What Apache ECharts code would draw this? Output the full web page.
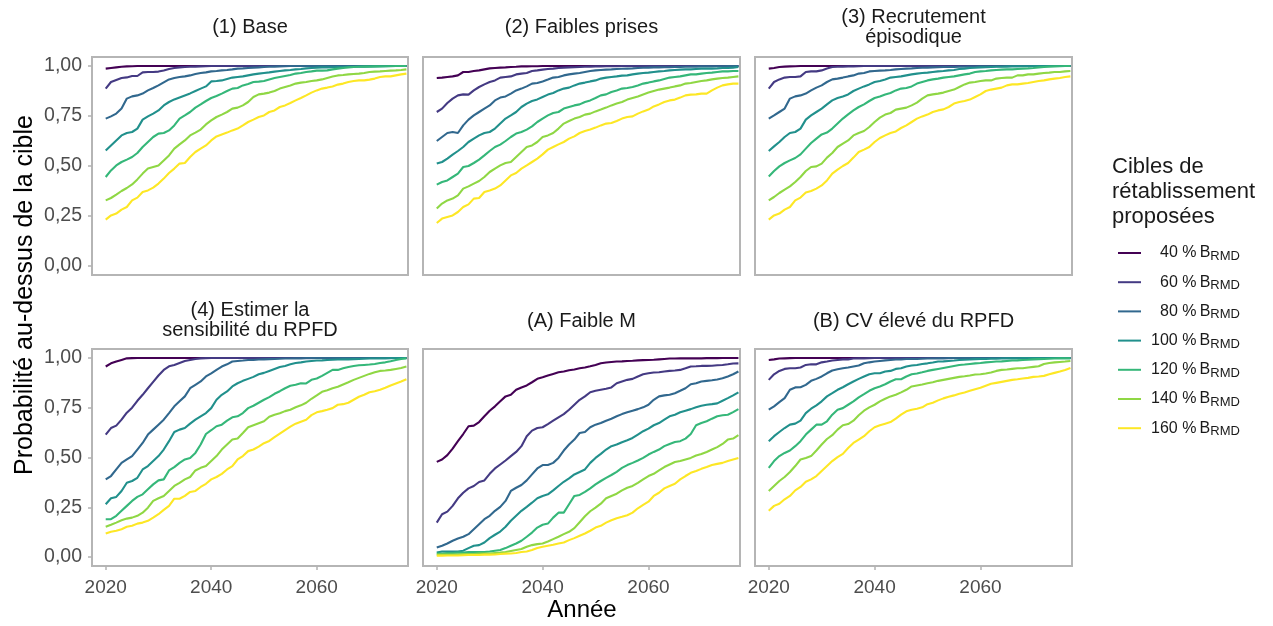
<!DOCTYPE html>
<html><head><meta charset="utf-8">
<script src="https://cdn.jsdelivr.net/npm/echarts@6/dist/echarts.min.js"></script>
<style>html,body{margin:0;padding:0;background:#fff}#c{width:1273px;height:626px}</style>
</head><body><div id="c"></div>
<script>
const years = [2020,2021,2022,2023,2024,2025,2026,2027,2028,2029,
2030,2031,2032,2033,2034,2035,2036,2037,2038,2039,
2040,2041,2042,2043,2044,2045,2046,2047,2048,2049,
2050,2051,2052,2053,2054,2055,2056,2057,2058,2059,
2060,2061,2062,2063,2064,2065,2066,2067,2068,2069,
2070,2071,2072,2073,2074,2075,2076,2077];
const targets = ['40','60','80','100','120','140','160'];
const colors = ['#440154','#443A83','#31688E','#21908C','#35B779','#8FD744','#FDE725'];
const panelTitles = [['(1) Base'],['(2) Faibles prises'],['(3) Recrutement','épisodique'],
  ['(4) Estimer la','sensibilité du RPFD'],['(A) Faible M'],['(B) CV élevé du RPFD']];
const yTickValues = [0,0.25,0.5,0.75,1];
const xTickValues = [2020,2040,2060];
const legendTitle = ['Cibles de','rétablissement','proposées'];
const yTitle = 'Probabilité au-dessus de la cible';
const xTitle = 'Année';

// (1) Base
const base = [
[.987,.99,.993,.996,.998,.999,1,1,1,1, 1,1,1,1,1,1,1,1,1,1, 1,1,1,1,1,1,1,1,1,1, 1,1,1,1,1,1,1,1,1,1, 1,1,1,1,1,1,1,1,1,1, 1,1,1,1,1,1,1,1],
[.887,.92,.93,.94,.943,.95,.95,.968,.97,.97, .972,.978,.985,.99,.993,.995,.996,.997,.998,.999, 1,1,1,1,1,1,1,1,1,1, 1,1,1,1,1,1,1,1,1,1, 1,1,1,1,1,1,1,1,1,1, 1,1,1,1,1,1,1,1],
[.737,.748,.762,.787,.837,.848,.853,.862,.878,.89, .903,.918,.933,.94,.945,.948,.953,.96,.965,.968, .973,.975,.978,.98,.983,.987,.988,.99,.992,.993, .995,.996,.997,.998,.999,1,1,1,1,1, 1,1,1,1,1,1,1,1,1,1, 1,1,1,1,1,1,1,1],
[.578,.603,.628,.653,.665,.67,.687,.732,.748,.762, .778,.803,.82,.833,.843,.853,.863,.875,.887,.898, .923,.925,.928,.935,.942,.945,.948,.953,.958,.962, .965,.968,.972,.975,.978,.98,.983,.985,.988,.99, .992,.993,.993,.994,.995,.995,.996,.996,.997,.997, .998,.998,.999,.999,1,1,1,1],
[.445,.478,.503,.52,.532,.545,.565,.595,.62,.645, .662,.665,.678,.703,.737,.753,.77,.792,.808,.825, .84,.85,.862,.875,.887,.89,.903,.91,.92,.922, .925,.933,.94,.945,.95,.955,.962,.965,.97,.973, .977,.977,.978,.983,.987,.99,.993,.995,.996,.997, .997,.998,.998,.999,.999,1,1,1],
[.328,.34,.357,.375,.39,.408,.433,.462,.487,.495, .503,.528,.553,.587,.608,.628,.653,.667,.682,.708, .728,.745,.757,.77,.787,.792,.803,.82,.845,.858, .862,.867,.875,.887,.895,.903,.912,.917,.92,.925, .928,.933,.94,.947,.953,.955,.958,.96,.962,.965, .97,.972,.973,.975,.977,.978,.98,.983],
[.232,.253,.262,.282,.295,.328,.342,.37,.378,.392, .412,.437,.465,.487,.512,.515,.545,.57,.587,.603, .628,.648,.658,.667,.678,.687,.703,.72,.732,.745, .753,.77,.778,.795,.803,.815,.828,.84,.853,.867, .878,.887,.892,.898,.907,.912,.92,.925,.928,.928, .932,.937,.945,.948,.948,.953,.958,.962]
];
// (2) Faibles prises
const faibles = [
[.94,.942,.945,.948,.953,.97,.97,.975,.978,.983, .988,.99,.992,.993,.995,.996,.998,.998,.999,.999, 1,1,1,1,1,1,1,1,1,1, 1,1,1,1,1,1,1,1,1,1, 1,1,1,1,1,1,1,1,1,1, 1,1,1,1,1,1,1,1],
[.77,.787,.815,.837,.853,.858,.857,.878,.895,.908, .92,.928,.942,.945,.948,.958,.962,.965,.975,.978, .982,.985,.987,.99,.992,.993,.994,.995,.996,.997, .998,.998,.999,.999,.999,1,1,1,1,1, 1,1,1,1,1,1,1,1,1,1, 1,1,1,1,1,1,1,1],
[.625,.645,.665,.67,.665,.703,.732,.753,.77,.787, .803,.828,.842,.848,.862,.878,.887,.898,.912,.915, .923,.932,.942,.945,.953,.958,.962,.965,.97,.975, .978,.98,.982,.983,.985,.986,.987,.988,.99,.991, .992,.993,.993,.994,.994,.995,.995,.996,.996,.997, .998,.998,.998,.999,.999,1,1,1],
[.512,.52,.537,.557,.575,.595,.62,.637,.653,.665, .67,.687,.712,.737,.753,.77,.795,.812,.825,.833, .845,.857,.865,.878,.887,.892,.903,.912,.917,.923, .928,.937,.942,.945,.948,.952,.953,.958,.962,.965, .967,.97,.973,.975,.978,.98,.982,.983,.983,.985, .987,.987,.987,.988,.99,.99,.992,.995],
[.407,.42,.428,.445,.462,.495,.5,.515,.532,.553, .575,.595,.607,.625,.645,.662,.67,.682,.698,.72, .737,.753,.765,.77,.787,.795,.803,.808,.82,.828, .84,.853,.858,.87,.878,.887,.89,.895,.903,.912, .917,.923,.928,.935,.942,.945,.948,.953,.958,.958, .962,.965,.967,.97,.973,.973,.975,.975],
[.287,.312,.328,.337,.353,.387,.398,.412,.425,.445, .47,.487,.503,.515,.52,.545,.57,.595,.603,.62, .645,.653,.665,.687,.712,.725,.737,.745,.757,.762, .773,.782,.792,.803,.812,.82,.832,.84,.848,.858, .867,.875,.882,.887,.892,.898,.903,.912,.915,.92, .925,.928,.933,.937,.94,.942,.945,.948],
[.215,.237,.245,.253,.27,.295,.308,.337,.34,.37, .378,.387,.403,.428,.453,.465,.487,.503,.52,.537, .558,.582,.595,.608,.62,.637,.648,.665,.675,.682, .692,.703,.712,.715,.725,.737,.745,.748,.762,.773, .782,.798,.808,.82,.828,.832,.842,.853,.857,.858, .862,.862,.878,.892,.903,.908,.912,.912]
];
// (3) Recrutement épisodique
const recrut = [
[.987,.99,.995,.997,.998,.999,1,1,1,1, 1,1,1,1,1,1,1,1,1,1, 1,1,1,1,1,1,1,1,1,1, 1,1,1,1,1,1,1,1,1,1, 1,1,1,1,1,1,1,1,1,1, 1,1,1,1,1,1,1,1],
[.887,.92,.933,.942,.945,.945,.948,.97,.973,.973, .978,.987,.995,.996,.997,.998,.998,.999,1,1, 1,1,1,1,1,1,1,1,1,1, 1,1,1,1,1,1,1,1,1,1, 1,1,1,1,1,1,1,1,1,1, 1,1,1,1,1,1,1,1],
[.737,.753,.77,.787,.837,.848,.853,.862,.878,.892, .903,.92,.933,.937,.942,.948,.953,.962,.965,.973, .975,.977,.978,.98,.983,.985,.987,.988,.99,.991, .992,.993,.994,.995,.995,.995,.996,.996,.997,.997, .998,.998,.998,.999,.999,1,1,1,1,1, 1,1,1,1,1,1,1,1],
[.575,.598,.62,.645,.665,.67,.687,.732,.753,.77, .787,.808,.828,.84,.848,.858,.875,.887,.898,.908, .92,.925,.932,.942,.945,.948,.953,.958,.962,.965, .967,.97,.973,.975,.978,.98,.985,.987,.99,.991, .993,.994,.995,.996,.996,.997,.998,.998,.999,.999, 1,1,1,1,1,1,1,1],
[.448,.475,.498,.515,.528,.54,.558,.587,.615,.637, .658,.667,.687,.712,.737,.758,.778,.795,.808,.825, .84,.848,.858,.865,.878,.887,.89,.898,.912,.92, .928,.933,.937,.942,.945,.948,.953,.958,.962,.97, .973,.975,.978,.98,.982,.983,.983,.985,.987,.988, .99,.993,.995,.997,.998,.999,1,1],
[.328,.345,.365,.382,.398,.42,.445,.475,.495,.498, .512,.542,.565,.595,.612,.628,.653,.665,.675,.695, .72,.742,.757,.765,.782,.787,.792,.803,.817,.837, .853,.858,.862,.867,.875,.882,.895,.908,.917,.92, .925,.928,.928,.937,.94,.942,.942,.953,.953,.958, .958,.962,.965,.967,.97,.97,.973,.975],
[.232,.253,.262,.282,.295,.328,.342,.367,.375,.387, .403,.428,.462,.482,.5,.515,.542,.57,.582,.595, .62,.64,.653,.665,.673,.69,.703,.72,.737,.748, .757,.77,.778,.783,.795,.812,.82,.825,.832,.845, .858,.875,.882,.887,.892,.903,.908,.908,.912,.915, .92,.925,.928,.933,.937,.94,.945,.948]
];
// (4) Estimer la sensibilité du RPFD
const sensib = [
[.957,.973,.982,.99,.998,.999,1,1,1,1, 1,1,1,1,1,1,1,1,1,1, 1,1,1,1,1,1,1,1,1,1, 1,1,1,1,1,1,1,1,1,1, 1,1,1,1,1,1,1,1,1,1, 1,1,1,1,1,1,1,1],
[.615,.648,.66,.69,.725,.75,.785,.815,.848,.88, .912,.94,.958,.965,.975,.985,.99,.995,.998,.999, 1,1,1,1,1,1,1,1,1,1, 1,1,1,1,1,1,1,1,1,1, 1,1,1,1,1,1,1,1,1,1, 1,1,1,1,1,1,1,1],
[.39,.407,.44,.473,.49,.507,.54,.573,.615,.64, .665,.69,.723,.757,.782,.807,.848,.865,.882,.907, .923,.94,.957,.968,.982,.985,.987,.99,.99,.992, .993,.994,.995,.996,.997,.997,.998,.998,.999,.999, 1,1,1,1,1,1,1,1,1,1, 1,1,1,1,1,1,1,1],
[.265,.295,.302,.332,.373,.382,.398,.44,.457,.482, .507,.54,.582,.628,.64,.648,.67,.69,.707,.723, .748,.79,.815,.832,.857,.873,.885,.895,.905,.918, .925,.935,.945,.955,.96,.968,.975,.978,.982,.985, .987,.988,.99,.991,.992,.993,.993,.994,.995,.996, .997,.997,.998,.998,.999,1,1,1],
[.19,.19,.207,.232,.257,.282,.302,.315,.34,.365, .385,.39,.435,.452,.473,.49,.498,.523,.565,.618, .637,.657,.665,.685,.702,.707,.723,.748,.76,.775, .79,.803,.82,.833,.848,.86,.865,.873,.872,.89, .897,.91,.925,.94,.94,.948,.955,.96,.963,.965, .967,.97,.975,.978,.983,.99,.995,.998],
[.152,.162,.173,.185,.193,.198,.207,.223,.248,.282, .295,.307,.332,.357,.373,.39,.402,.435,.448,.457, .482,.507,.54,.565,.59,.595,.623,.652,.662,.672, .682,.705,.715,.722,.733,.74,.752,.762,.775,.795, .812,.83,.838,.848,.855,.867,.878,.89,.9,.91, .92,.928,.935,.937,.94,.945,.95,.957],
[.118,.127,.132,.14,.152,.157,.168,.173,.182,.198, .215,.237,.257,.293,.293,.307,.327,.332,.352,.368, .39,.402,.418,.44,.457,.49,.507,.532,.54,.555, .572,.583,.602,.62,.638,.655,.67,.68,.69,.713, .727,.733,.74,.748,.765,.768,.775,.79,.805,.815, .828,.833,.84,.85,.862,.872,.882,.893]
];
// (A) Faible M
const faibleM = [
[.478,.49,.512,.545,.582,.618,.657,.66,.678,.707, .735,.757,.782,.807,.815,.84,.852,.862,.878,.895, .903,.912,.92,.928,.932,.938,.942,.948,.952,.958, .965,.973,.977,.98,.982,.983,.985,.986,.988,.989, .99,.991,.993,.995,.997,.997,.998,.998,.998,.998, .998,.999,.999,.999,1,1,1,1],
[.173,.215,.228,.257,.295,.323,.345,.357,.377,.385, .418,.445,.465,.485,.507,.528,.557,.607,.635,.648, .652,.668,.685,.702,.718,.74,.765,.79,.807,.828, .835,.84,.845,.852,.873,.882,.89,.895,.907,.918, .923,.927,.928,.932,.935,.937,.94,.948,.957,.958, .96,.96,.961,.963,.965,.968,.972,.973],
[.048,.057,.068,.082,.093,.102,.115,.14,.165,.19, .207,.232,.252,.282,.332,.348,.362,.385,.415,.445, .462,.462,.473,.498,.535,.565,.59,.623,.628,.652, .665,.673,.685,.695,.707,.718,.727,.735,.743,.752, .765,.79,.807,.812,.815,.823,.835,.848,.868,.873, .882,.885,.888,.892,.898,.907,.918,.932],
[.023,.028,.028,.028,.028,.032,.045,.057,.06,.073, .095,.112,.128,.152,.182,.207,.232,.252,.273,.295, .307,.315,.335,.357,.378,.395,.415,.427,.44,.473, .498,.518,.54,.557,.565,.577,.587,.598,.615,.632, .645,.662,.673,.69,.707,.715,.727,.735,.743,.752, .76,.765,.768,.772,.785,.798,.812,.827],
[.018,.018,.02,.02,.022,.022,.025,.025,.025,.025, .028,.032,.035,.045,.057,.068,.082,.102,.123,.148, .162,.168,.198,.223,.223,.265,.307,.312,.327,.345, .365,.382,.398,.412,.428,.448,.462,.473,.485,.498, .515,.528,.54,.557,.568,.578,.582,.595,.618,.662, .673,.682,.695,.707,.712,.715,.728,.743],
[.012,.012,.013,.013,.013,.015,.015,.015,.017,.017, .018,.02,.022,.025,.03,.035,.04,.052,.06,.065, .068,.078,.09,.102,.115,.127,.145,.175,.205,.23, .248,.268,.295,.307,.318,.335,.348,.357,.373,.39, .407,.418,.435,.452,.465,.477,.482,.49,.498,.51, .518,.528,.54,.552,.568,.59,.595,.612],
[.007,.007,.008,.008,.008,.009,.01,.01,.01,.012, .012,.013,.015,.017,.018,.02,.025,.028,.035,.045, .052,.057,.062,.068,.073,.085,.095,.107,.118,.132, .148,.157,.173,.185,.195,.202,.21,.223,.245,.262, .278,.307,.323,.345,.357,.368,.39,.407,.423,.432, .443,.452,.462,.468,.473,.482,.49,.498]
];
// (B) CV élevé du RPFD
const cvEleve = [
[.99,.993,.997,.998,.999,1,1,1,1,1, 1,1,1,1,1,1,1,1,1,1, 1,1,1,1,1,1,1,1,1,1, 1,1,1,1,1,1,1,1,1,1, 1,1,1,1,1,1,1,1,1,1, 1,1,1,1,1,1,1,1],
[.89,.918,.935,.945,.948,.948,.952,.965,.968,.968, .978,.982,.987,.99,.993,.993,.997,.998,.998,.999, 1,1,1,1,1,1,1,1,1,1, 1,1,1,1,1,1,1,1,1,1, 1,1,1,1,1,1,1,1,1,1, 1,1,1,1,1,1,1,1],
[.74,.757,.778,.798,.84,.852,.853,.865,.885,.895, .907,.923,.937,.943,.948,.952,.957,.962,.973,.978, .982,.985,.988,.99,.992,.992,.995,.995,.995,.996, .997,.997,.998,.998,.999,1,1,1,1,1, 1,1,1,1,1,1,1,1,1,1, 1,1,1,1,1,1,1,1],
[.582,.607,.628,.648,.665,.67,.685,.723,.745,.762, .782,.807,.823,.84,.853,.868,.882,.895,.907,.918, .923,.923,.932,.935,.945,.948,.957,.962,.965,.97, .973,.977,.982,.983,.985,.987,.99,.991,.992,.994, .995,.995,.996,.996,.997,.998,.998,.998,.999,.999, 1,1,1,1,1,1,1,1],
[.448,.482,.507,.523,.535,.557,.582,.615,.64,.665, .665,.682,.715,.74,.748,.765,.782,.802,.818,.835, .848,.857,.868,.882,.893,.893,.907,.918,.922,.928, .935,.94,.945,.95,.955,.96,.965,.967,.97,.973, .975,.978,.98,.982,.983,.985,.987,.988,.99,.991, .993,.994,.995,.996,.997,.998,.998,.998],
[.332,.357,.382,.402,.427,.457,.49,.498,.507,.535, .565,.593,.612,.64,.662,.668,.685,.712,.735,.752, .765,.782,.795,.807,.815,.827,.84,.857,.862,.867, .873,.878,.885,.89,.895,.9,.905,.908,.912,.917, .918,.922,.927,.935,.94,.942,.945,.948,.948,.952, .955,.958,.97,.975,.978,.98,.982,.985],
[.232,.257,.268,.29,.307,.335,.352,.378,.39,.407, .432,.457,.482,.502,.518,.548,.573,.59,.607,.632, .652,.662,.67,.678,.695,.715,.732,.74,.745,.752, .768,.775,.787,.797,.805,.812,.82,.827,.835,.843, .85,.86,.87,.875,.88,.885,.89,.893,.897,.9, .905,.907,.91,.918,.925,.932,.94,.95]
];
const panels = [base, faibles, recrut, sensib, faibleM, cvEleve];

const FONT = 'Liberation Sans, Arial, sans-serif';
const grids = [
  {left:92, top:57, width:316, height:218},
  {left:423, top:57, width:317, height:218},
  {left:755, top:57, width:317, height:218},
  {left:92, top:349, width:316, height:217},
  {left:423, top:349, width:317, height:217},
  {left:755, top:349, width:317, height:217}
];

const series = [];
panels.forEach((p, pi) => p.forEach((vals, ti) => {
  series.push({
    type:'line', name: targets[ti], xAxisIndex: pi, yAxisIndex: pi,
    data: years.map((y,k) => [y, vals[k]]),
    symbol:'none', showSymbol:false, clip:true, silent:true,
    color: colors[ti],
    lineStyle:{width:2.1, color: colors[ti]}, itemStyle:{color: colors[ti]}
  });
}));

const graphic = [];
panelTitles.forEach((lines, i) => {
  const g = grids[i];
  const cx = g.left + g.width/2;
  const row = i < 3 ? 0 : 1;
  const centers = lines.length === 1 ? (row === 0 ? [27] : [321]) : (row === 0 ? [17, 37] : [310, 330]);
  lines.forEach((t, k) => graphic.push({
    type:'text', x: cx, y: centers[k], silent:true,
    style:{text:t, fontSize:20, fontFamily:FONT, fill:'#1a1a1a', align:'center', verticalAlign:'middle', textAlign:'center', textVerticalAlign:'middle'}
  }));
});
graphic.push({type:'text', x:25, y:295, rotation:Math.PI/2, silent:true,
  style:{text:yTitle, fontSize:25, fontFamily:FONT, fill:'#000', align:'center', verticalAlign:'middle', textAlign:'center', textVerticalAlign:'middle'}});
graphic.push({type:'text', x:582, y:610, silent:true,
  style:{text:xTitle, fontSize:24, fontFamily:FONT, fill:'#000', align:'center', verticalAlign:'middle', textAlign:'center', textVerticalAlign:'middle'}});
legendTitle.forEach((t, k) => graphic.push({type:'text', x:1112, y:167 + 25*k, silent:true,
  style:{text:t, fontSize:22, fontFamily:FONT, fill:'#1a1a1a', align:'left', verticalAlign:'middle', textAlign:'left', textVerticalAlign:'middle'}}));

const option = {
  animation:false,
  textStyle:{fontFamily:FONT},
  grid: grids.map(g => Object.assign({show:true, borderColor:'#b5b5b5', borderWidth:2, backgroundColor:'transparent', containLabel:false}, g)),
  xAxis: grids.map((g,i) => ({
    gridIndex:i, type:'value', min:2017.4, max:2077.3, position:'bottom',
    axisLine:{show:false, onZero:false}, splitLine:{show:false},
    axisTick:{show: i>=3, customValues:xTickValues, length:4, lineStyle:{color:'#b3b3b3', width:1.5}},
    axisLabel:{show: i>=3, customValues:xTickValues, color:'#4d4d4d', fontSize:19, margin:12, fontFamily:FONT, formatter: v => String(v)}
  })),
  yAxis: grids.map((g,i) => ({
    gridIndex:i, type:'value', min:-0.045, max:1.045, position:'left',
    axisLine:{show:false, onZero:false}, splitLine:{show:false},
    axisTick:{show: i%3===0, customValues:yTickValues, length:4, lineStyle:{color:'#b3b3b3', width:1.5}},
    axisLabel:{show: i%3===0, customValues:yTickValues, color:'#4d4d4d', fontSize:19.5, margin:10, fontFamily:FONT,
      formatter: v => v.toFixed(2).replace('.', ',')}
  })),
  legend:{
    orient:'vertical', left:1113, top:238, itemWidth:23, itemHeight:2, itemGap:9.2, icon:'rect',
    data: targets, selectedMode:false,
    formatter: name => (name.length === 2 ? '{p2| }' : '{p3| }') + '{n|' + name + '}{t| %\u2009B}{s|RMD}',
    textStyle:{ color:'#1a1a1a', fontFamily:FONT, rich:{
      p2:{width:14, fontSize:16, lineHeight:20, height:20},
      p3:{width:5, fontSize:16, lineHeight:20, height:20},
      n:{fontSize:16, lineHeight:20, height:20, color:'#1a1a1a', fontFamily:FONT},
      t:{fontSize:16, lineHeight:20, height:20, color:'#1a1a1a', fontFamily:FONT},
      s:{fontSize:13, lineHeight:8, verticalAlign:'bottom', color:'#1a1a1a', fontFamily:FONT}
    }}
  },
  graphic: graphic,
  series: series
};
const chart = echarts.init(document.getElementById('c'), null, {renderer:'canvas'});
chart.setOption(option);
</script>
</body></html>
